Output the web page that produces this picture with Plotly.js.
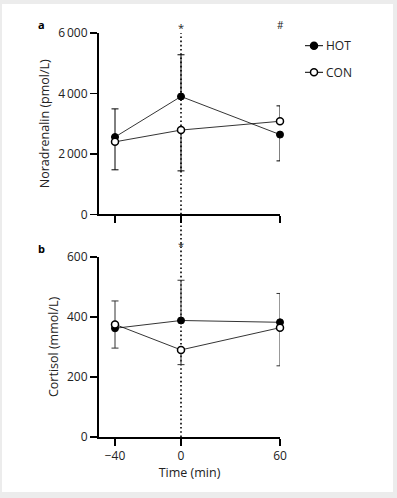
<!DOCTYPE html>
<html>
<head>
<meta charset="utf-8">
<script src="https://cdn.plot.ly/plotly-3.0.1.min.js"></script>
<style>html,body{margin:0;padding:0;background:#ececec;}#chart{width:397px;height:498px;}</style>
</head>
<body>
<div id="chart"></div>
<script>
// Data
const time = [-40, 0, 60];
const timeTickLabels = ['\u221240', '0', '60'];
const seriesNames = ['HOT', 'CON'];

const hotNoradrenalin = [2560, 3900, 2640];
const conNoradrenalin = [2400, 2790, 3080];
const hotNoradrenalinErrUp = [930, 1380, 0];
const hotNoradrenalinErrDown = [0, 0, 870];
const conNoradrenalinErrUp = [0, 0, 510];
const conNoradrenalinErrDown = [925, 1350, 0];

const hotCortisol = [362, 388, 382];
const conCortisol = [375, 290, 364];
const hotCortisolErrUp = [0, 134, 96];
const hotCortisolErrDown = [66, 0, 0];
const conCortisolErrUp = [78, 0, 0];
const conCortisolErrDown = [0, 49, 127];

const noradTicks = [0, 2000, 4000, 6000];
const noradTickLabels = ['0', '2\u2009000', '4\u2009000', '6\u2009000'];
const cortTicks = [0, 200, 400, 600];
const cortTickLabels = ['0', '200', '400', '600'];

const FONT = 'Open Sans, Noto Sans, sans-serif';
const TXT = '#222';

// pixel -> paper helpers (plot area: x 99..280, y 33..437)
const L = 99, R = 117, T = 33, B = 61, W = 397, H = 498;
const PW = W - L - R, PH = H - T - B;
const xp = px => (px - L) / PW;
const yp = py => (H - B - py) / PH;

function err(up, down, color) {
  return {type: 'data', symmetric: false, array: up, arrayminus: down,
          color: color || '#000', thickness: 1, width: 3.5};
}
const hotMarker = {symbol: 'circle', size: 7, color: '#000', line: {color: '#000', width: 1}};
const conMarker = {symbol: 'circle', size: 7, color: '#fff', line: {color: '#000', width: 1.5}};
const lineStyle = {color: '#000', width: 0.8};

const traces = [
  {x: time, y: hotNoradrenalin, xaxis: 'x', yaxis: 'y', name: seriesNames[0], mode: 'lines+markers',
   line: lineStyle, marker: hotMarker, error_y: err(hotNoradrenalinErrUp, hotNoradrenalinErrDown), cliponaxis: false},
  {x: time, y: conNoradrenalin, xaxis: 'x', yaxis: 'y', name: seriesNames[1], mode: 'lines+markers',
   line: lineStyle, marker: conMarker, error_y: err(conNoradrenalinErrUp, conNoradrenalinErrDown), cliponaxis: false},
  {x: time, y: hotCortisol, xaxis: 'x2', yaxis: 'y2', name: seriesNames[0], mode: 'lines+markers',
   line: lineStyle, marker: hotMarker, error_y: err(hotCortisolErrUp, hotCortisolErrDown, '#333'), cliponaxis: false},
  {x: time, y: conCortisol, xaxis: 'x2', yaxis: 'y2', name: seriesNames[1], mode: 'lines+markers',
   line: lineStyle, marker: conMarker, error_y: err(conCortisolErrUp, conCortisolErrDown, '#333'), cliponaxis: false}
];

const axisCommon = {
  showline: true, linecolor: '#000', linewidth: 2, ticks: 'outside', ticklen: 7,
  tickwidth: 1.5, tickcolor: '#000', showgrid: false, zeroline: false,
  tickfont: {family: FONT, size: 12, color: TXT}
};

const xRange = [-49.7, 60];

// manual legend (short line segment as in the reference)
const legendY = [45.7, 72.3];
const legendShapes = [];
const legendAnn = [];
legendY.forEach((py, i) => {
  legendShapes.push({type: 'line', xref: 'paper', yref: 'paper', x0: xp(305), x1: xp(323), y0: yp(py), y1: yp(py),
                     line: {color: '#000', width: 1}});
  legendShapes.push({type: 'circle', xref: 'paper', yref: 'paper', x0: xp(314 - 3.5), x1: xp(314 + 3.5),
                     y0: yp(py + 3.5), y1: yp(py - 3.5),
                     fillcolor: i === 0 ? '#000' : '#fff', line: {color: '#000', width: 1.5}});
  legendAnn.push({text: seriesNames[i], xref: 'paper', yref: 'paper', x: xp(324), y: yp(py),
                  xanchor: 'left', yanchor: 'middle', showarrow: false,
                  font: {family: FONT, size: 12, color: TXT}});
});

const layout = {
  width: W, height: H,
  paper_bgcolor: '#ececec', plot_bgcolor: 'rgba(0,0,0,0)',
  margin: {l: L, r: R, t: T, b: B},
  showlegend: false,
  xaxis: Object.assign({}, axisCommon, {range: xRange, anchor: 'y', tickvals: time, showticklabels: false}),
  yaxis: Object.assign({}, axisCommon, {domain: [0.551, 1], range: [0, 6000], anchor: 'x',
    tickvals: noradTicks, ticktext: noradTickLabels,
    title: {text: 'Noradrenalin (pmol/L)', font: {family: FONT, size: 12.5, color: TXT}, standoff: 6}}),
  xaxis2: Object.assign({}, axisCommon, {range: xRange, anchor: 'y2', tickvals: time, ticktext: timeTickLabels,
    title: {text: 'Time (min)', font: {family: FONT, size: 12.5, color: TXT}, standoff: 3}}),
  yaxis2: Object.assign({}, axisCommon, {domain: [0, 0.446], range: [0, 600], anchor: 'x2',
    tickvals: cortTicks, ticktext: cortTickLabels,
    title: {text: 'Cortisol (mmol/L)', font: {family: FONT, size: 12.5, color: TXT}, standoff: 6}}),
  shapes: [
    {type: 'rect', xref: 'paper', yref: 'paper', x0: xp(2), x1: xp(393),
     y0: yp(492), y1: yp(4), fillcolor: '#fff', line: {width: 0}, layer: 'below'},
    {type: 'line', xref: 'x', yref: 'paper', x0: 0, x1: 0, y0: 0, y1: 1,
     line: {color: '#000', width: 1.6, dash: '1.6px,2.6px'}, layer: 'below'}
  ].concat(legendShapes),
  annotations: [
    {text: '<b>a</b>', xref: 'paper', yref: 'paper', x: xp(41), y: yp(25), xanchor: 'center', yanchor: 'middle',
     showarrow: false, font: {family: FONT, size: 11, color: '#000'}},
    {text: '<b>b</b>', xref: 'paper', yref: 'paper', x: xp(41), y: yp(248), xanchor: 'center', yanchor: 'middle',
     showarrow: false, font: {family: FONT, size: 11, color: '#000'}},
    {text: '*', xref: 'x', yref: 'paper', x: 0, y: yp(28), xanchor: 'center', yanchor: 'middle',
     showarrow: false, font: {family: FONT, size: 11, color: TXT}},
    {text: '#', xref: 'x', yref: 'paper', x: 60, y: yp(25), xanchor: 'center', yanchor: 'middle',
     showarrow: false, font: {family: FONT, size: 10, color: TXT}},
    {text: '*', xref: 'x', yref: 'paper', x: 0, y: yp(245), xanchor: 'center', yanchor: 'middle',
     showarrow: false, font: {family: FONT, size: 11, color: TXT}}
  ].concat(legendAnn)
};

Plotly.newPlot('chart', traces, layout, {displayModeBar: false, staticPlot: true});
</script>
</body>
</html>
